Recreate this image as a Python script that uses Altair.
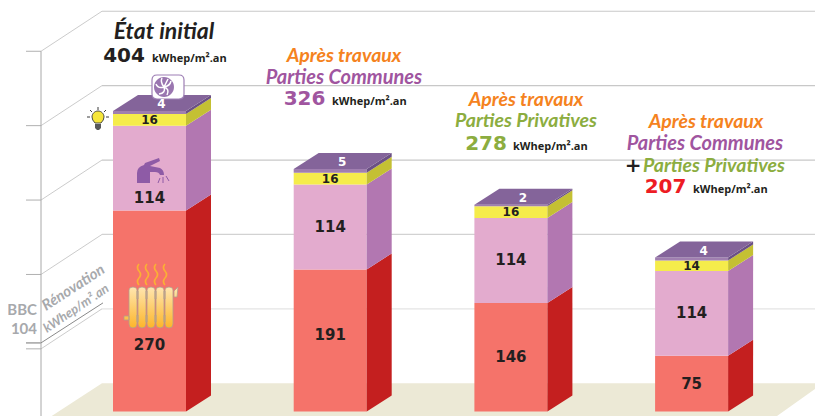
import altair as alt
import pandas as pd

# ---- values
scenarios = ["État initial", "Parties Communes", "Parties Privatives", "PC + PP"]
chauffage = [270, 191, 146, 75]
eau_chaude = [114, 114, 114, 114]
eclairage = [16, 16, 16, 14]
ventilation = [4, 5, 2, 4]
totaux = [404, 326, 278, 207]
grid_levels = [100, 200, 300, 400, 500]
grid_colors = ["#e4e4e4", "#d2d2d2", "#c8c8c8", "#c8c8c8", "#c8c8c8"]
bbc_level = 108
bbc_label = "104"

# ---- drawing geometry
W, H = 807, 408
PX = 0.744          # pixels per kWhep
BASE = 411.5        # pixel row of value 0 on the bars' front
LEFT0, STEP, BW = 113.0, 180.7, 73.0
DX, DYV = 25.0, 16 / PX
WALL_X0, WALL_X1 = 41.0, 102.0
FRONT_OFF, BACK_OFF = -15.8, 38.0

def V(py):
    return (BASE - py) / PX

xs = alt.Scale(domain=[8, 815], range=[0, W], nice=False, zero=False)
ys = alt.Scale(domain=[V(416), V(8)], range=[H, 0], nice=False, zero=False)
X = lambda f="x": alt.X(f"{f}:Q", scale=xs, axis=None)
Y = lambda f="v": alt.Y(f"{f}:Q", scale=ys, axis=None, stack=None)
X2 = lambda f="x2": alt.X2(f"{f}:Q")
Y2 = lambda f="v2": alt.Y2(f"{f}:Q")
COL = alt.Color("c:N", scale=None, legend=None)

# ---- tables built from the arrays
front_cols = ["#F5736A", "#E3ABCE", "#F5EC4B", "#A07FB0"]
side_cols = ["#C41F1F", "#B277B1", "#C4C033", "#6B5084"]
TOP = "#84649A"
fronts, sides, tops, labels = [], [], [], []
pink_shift = [30, 0, 0, 0]
red_shift = [34, -5, 0, 0]
for i in range(4):
    L = LEFT0 + i * STEP
    R = L + BW
    lo = 0
    series = [chauffage[i], eau_chaude[i], eclairage[i], ventilation[i]]
    for s, val in enumerate(series):
        hi = lo + val
        fronts.append(dict(x=L, x2=R, v=lo, v2=hi, c=front_cols[s]))
        key = f"{i}-{s}"
        sides.append(dict(k=key, x=R, v=lo, v2=hi, c=side_cols[s]))
        sides.append(dict(k=key, x=R + DX, v=lo + DYV, v2=hi + DYV, c=side_cols[s]))
        cx = (L + R) / 2
        if s == 3:
            labels.append(dict(x=cx + 12, v=hi + 9, t=str(val), c="white", fs=12))
        elif s == 2:
            labels.append(dict(x=cx, v=(lo + hi) / 2, t=str(val), c="#231F20", fs=12))
        else:
            shift = (red_shift if s == 0 else pink_shift)[i]
            labels.append(dict(x=cx, v=(lo + hi) / 2 - shift / PX, t=str(val), c="#231F20", fs=15))
        lo = hi
    k = str(i)
    tops += [dict(k=k, x=L, v=lo, v2=lo),
             dict(k=k, x=L + DX, v=lo + DYV, v2=lo),
             dict(k=k, x=R, v=lo + DYV, v2=lo),
             dict(k=k, x=R + DX, v=lo + DYV, v2=lo + DYV)]

df_f, df_s, df_t, df_l = map(pd.DataFrame, (fronts, sides, tops, labels))

# floor
floor = pd.DataFrame([
    dict(x=51.7, v=V(416), v2=V(416)),
    dict(x=WALL_X1, v=BACK_OFF, v2=V(416)),
    dict(x=777, v=BACK_OFF, v2=V(416)),
    dict(x=823, v=BACK_OFF, v2=BACK_OFF),
])
layers = [alt.Chart(floor).mark_area(color="#ECE9D6", interpolate="linear").encode(x=X(), y=Y(), y2=Y2())]

# walls and grid
hor = pd.DataFrame([dict(x=WALL_X1, x2=815, v=g + BACK_OFF, c=c) for g, c in zip(grid_levels, grid_colors)])
dia = pd.DataFrame([dict(x=WALL_X0, x2=WALL_X1, v=g + FRONT_OFF, v2=g + BACK_OFF) for g in grid_levels])
stub = pd.DataFrame([dict(x=26, x2=WALL_X0, v=g + FRONT_OFF) for g in grid_levels])
layers += [
    alt.Chart(hor).mark_rule(strokeWidth=1.2).encode(x=X(), x2=X2(), y=Y(), color=COL),
    alt.Chart(dia).mark_rule(strokeWidth=0.7, color="#b4b4b4").encode(x=X(), x2=X2(), y=Y(), y2=Y2()),
    alt.Chart(stub).mark_rule(strokeWidth=1, color="#b0b0b0").encode(x=X(), x2=X2(), y=Y()),
    alt.Chart(pd.DataFrame([dict(x=WALL_X0, v=500 + FRONT_OFF, v2=V(416))])).mark_rule(
        strokeWidth=1, color="#a8a8a8").encode(x=X(), y=Y(), y2=Y2()),
    alt.Chart(pd.DataFrame([dict(x=WALL_X0, x2=WALL_X1 + 1, v=bbc_level + FRONT_OFF, v2=bbc_level + BACK_OFF + 0)])).mark_rule(
        strokeWidth=1, color="#8a8a8a").encode(x=X(), x2=X2(), y=Y(), y2=Y2()),
    alt.Chart(pd.DataFrame([dict(x=26, x2=WALL_X0, v=bbc_level + FRONT_OFF)])).mark_rule(
        strokeWidth=1.6, color="#a8a8a8").encode(x=X(), x2=X2(), y=Y()),
]

# bars
layers += [
    alt.Chart(df_f).mark_rect().encode(x=X(), x2=X2(), y=Y(), y2=Y2(), color=COL),
    alt.Chart(df_s).mark_area(interpolate="linear").encode(x=X(), y=Y(), y2=Y2(), color=COL, detail="k:N"),
    alt.Chart(df_t).mark_area(interpolate="linear", color=TOP).encode(x=X(), y=Y(), y2=Y2(), detail="k:N"),
]


def icon(path, cx, cy, fill=None, stroke=None, sw=1.0):
    kw = dict(shape=path, size=4, opacity=1, strokeWidth=sw)
    if fill is not None:
        kw.update(filled=True, fill=fill)
        if stroke is None:
            kw["strokeWidth"] = 0
    else:
        kw.update(filled=False)
    if stroke is not None:
        kw["stroke"] = stroke
    d = pd.DataFrame({"x": [cx], "v": [V(cy)]})
    return alt.Chart(d).mark_point(**kw).encode(x=X(), y=Y())


# radiator
col = ""
for k in range(5):
    x0 = -21 + k * 9
    col += f"M{x0},-9 Q{x0},-12 {x0+4},-12 Q{x0+8},-12 {x0+8},-9 L{x0+8},25 Q{x0+8},29 {x0+4},29 Q{x0},29 {x0},25 Z "
    if k < 4:
        col += f"M{x0+8},-8 L{x0+9},-8 L{x0+9},0 L{x0+8},0 Z M{x0+8},16 L{x0+9},16 L{x0+9},23 L{x0+8},23 Z "
col += "M-26,17 L-21,17 L-21,21 L-26,21 Z M24,-8 L28,-12 L27,-2 L24,-2 Z"
grad = alt.LinearGradient(gradient="linear", x1=0, y1=0, x2=0, y2=1,
                          stops=[alt.GradientStop(color="#FFE6B0", offset=0),
                                 alt.GradientStop(color="#FDB52A", offset=1)])
waves = ""
for x0 in (-11, -3, 6, 15):
    waves += f"M{x0},-35 q-3,3.5 0,7 q3,3.5 0,7 q-3,3.5 0,7 "
layers += [
    icon(col, 150, 299, fill=grad, stroke="#B49C8C", sw=0.8),
    icon(waves, 150, 299, stroke="#FBB034", sw=1.6),
]

# faucet
FAU = "#8E5BA6"
fau = ("M-13,13 L-13,3 Q-13,-3 -6,-5 L-5,-7 L9,-12 L10,-9 L0,-4 L10,-2 Q14,0 14,5 L10,5 Q9,2 5,2 "
       "L0,2 L0,13 Z")
spr = "M10,8 L8,13 M13,7 L13,13 M16,6 L19,11"
layers += [icon(fau, 150, 170, fill=FAU), icon(spr, 150, 170, stroke=FAU, sw=1)]

# bulb
bulb = "M-3,5 Q-6,2 -6,-1 A6,6 0 1 1 6,-1 Q6,2 3,5 Z"
base = "M-3,6 L3,6 L3,10 L1,12 L-1,12 L-3,10 Z"
rays = "M-11,-1 L-8,-1 M8,-1 L11,-1 M-8,-8 L-6,-6 M8,-8 L6,-6 M0,-11 L0,-8"
layers += [
    icon(bulb, 98, 118, fill="#F6E63A", stroke="#3a3a3a", sw=0.9),
    icon(base, 98, 118, fill="#58595B"),
    icon(rays, 98, 118, stroke="#3a3a3a", sw=1),
]

# fan
box = ("M-11,-12 L11,-12 Q16,-12 16,-7 L16,7 Q16,12 11,12 L-11,12 Q-16,12 -16,7 L-16,-7 Q-16,-12 -11,-12 Z")
circ = "M-10,0 A10,10 0 1 1 10,0 A10,10 0 1 1 -10,0 Z"
blades = ("M0,0 Q6,-1 7,-6 M0,0 Q6,2 3,8 M0,0 Q2,6 -5,7 M0,0 Q-6,2 -8,-3 M0,0 Q-4,-5 -2,-9 M0,0 Q3,-6 4,-8")
layers += [
    icon(box, 168, 87, fill="white", stroke="#9E7FB5", sw=1.2),
    icon(circ, 164, 87, fill="#9A76B0"),
    icon(blades, 164, 87, stroke="white", sw=1.5),
]

# value labels on the bars
for fs, g in df_l.groupby("fs"):
    layers.append(
        alt.Chart(g).mark_text(font="DejaVu Sans", fontWeight="bold", fontSize=int(fs), baseline="middle",
                               align="center").encode(x=X(), y=Y(), text="t:N", color=COL))


def txt(s, px, py, font, size, color, align="center", italic=False, bold=True, angle=None):
    kw = dict(font=font, fontSize=size, color=color, align=align, baseline="alphabetic",
              fontWeight="bold" if bold else "normal")
    if italic:
        kw["fontStyle"] = "italic"
    if angle is not None:
        kw["angle"] = angle
    d = pd.DataFrame({"x": [px], "v": [V(py)], "t": [s]})
    return alt.Chart(d).mark_text(**kw).encode(x=X(), y=Y(), text="t:N")


NARROW = "Lato"
NUM = "DejaVu Sans"
UNIT = "Open Sans"
ORANGE, PURPLE, GREEN, RED = "#F58220", "#A0559F", "#8CAD3F", "#ED1C24"
BLACK = "#231F20"
GREY = "#A7A9AC"
unit = "kWhep/m².an"
layers += [
    txt(scenarios[0], 164, 39, NARROW, 23, BLACK, italic=True),
    txt(str(totaux[0]), 124, 62, NUM, 20, BLACK),
    txt(unit, 152, 62, UNIT, 11, BLACK, align="left"),

    txt("Après travaux", 344, 62, NARROW, 19.5, ORANGE, italic=True),
    txt(scenarios[1], 344, 84, NARROW, 20, PURPLE, italic=True),
    txt(str(totaux[1]), 304.5, 105, NUM, 20, PURPLE),
    txt(unit, 332, 105, UNIT, 11, BLACK, align="left"),

    txt("Après travaux", 526, 106, NARROW, 19.5, ORANGE, italic=True),
    txt(scenarios[2], 526, 127, NARROW, 19.5, GREEN, italic=True),
    txt(str(totaux[2]), 486, 150, NUM, 20, GREEN),
    txt(unit, 513, 150, UNIT, 11, BLACK, align="left"),

    txt("Après travaux", 706, 128, NARROW, 19.5, ORANGE, italic=True),
    txt(scenarios[1], 705, 150, NARROW, 20, PURPLE, italic=True),
    txt("+", 633, 172, NUM, 20, BLACK),
    txt(scenarios[2], 714, 172, NARROW, 19.5, GREEN, italic=True),
    txt(str(totaux[3]), 665.5, 193, NUM, 20, RED),
    txt(unit, 693, 193, UNIT, 11, BLACK, align="left"),

    txt("BBC", 37, 315, NARROW, 15, GREY, align="right"),
    txt(bbc_label, 37, 334, NARROW, 15, GREY, align="right"),
    txt("Rénovation", 46, 311, NARROW, 15, GREY, align="left", italic=True, angle=327),
    txt(unit, 47, 333, NARROW, 13, GREY, align="left", italic=True, angle=326),
]

chart = alt.layer(*layers).properties(
    width=W, height=H, padding=0,
    autosize=alt.AutoSizeParams(type="none", contains="padding"),
    background="white",
).configure_view(stroke=None)

chart.save("out.html", embed_options={"renderer": "svg", "actions": False})
